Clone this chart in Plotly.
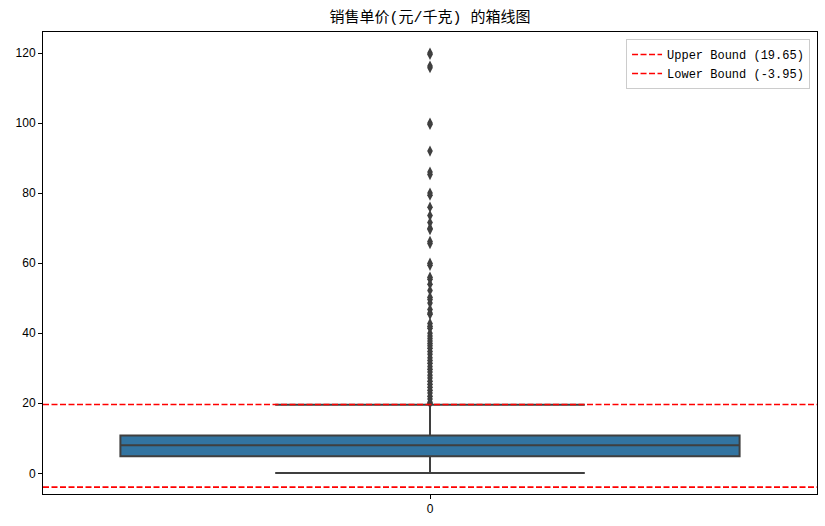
import plotly.graph_objects as go

# ---- data ----
category = [0]
q1 = [4.9]
median = [8.0]
q3 = [10.8]
lower_whisker = [0.1]
upper_whisker = [19.6]
upper_bound = 19.65
lower_bound = -3.95
outliers = [120.0, 119.6, 116.3, 115.8, 100.0, 99.6, 92.0, 86.0, 85.3, 80.0, 79.4, 76.0,
            73.6, 71.6, 70.0, 69.6, 66.2, 65.6, 60.0, 59.4, 56.0, 55.4, 54.0, 52.2,
            50.3, 49.6, 48.6, 46.8, 45.8, 45.4, 42.8, 42.0, 41.4, 40.0, 39.2, 38.5,
            37.8, 37.1, 36.4, 35.7, 34.8, 34.0, 33.0, 32.2, 31.4, 30.5, 29.7, 28.9,
            28.0, 27.2, 26.3, 25.4, 24.6, 23.7, 22.9, 22.0, 21.2, 20.3, 20.0]
title_text = "销售单价(元/千克) 的箱线图"
y_ticks = [0, 20, 40, 60, 80, 100, 120]

font_fam = "Liberation Mono, Noto Sans CJK SC, sans-serif"
tick_fam = "Liberation Sans, Arial, sans-serif"
edge = "#3f3f3f"
dash_style = "6px,2.5px"

fig = go.Figure()
fig.add_trace(go.Box(
    x=category, q1=q1, median=median, q3=q3,
    lowerfence=lower_whisker, upperfence=upper_whisker,
    width=0.8, whiskerwidth=0.5, boxpoints=False,
    fillcolor="#3274a1", line=dict(color=edge, width=2),
    showlegend=False, hoverinfo="skip",
))
fig.add_trace(go.Scatter(
    x=[category[0]] * len(outliers), y=outliers, mode="markers",
    marker=dict(symbol="diamond-tall", size=8, color=edge,
                line=dict(color=edge, width=0)),
    showlegend=False,
))
fig.add_trace(go.Scatter(
    x=[-0.5, 0.5], y=[upper_bound, upper_bound], mode="lines",
    line=dict(color="red", dash=dash_style, width=1.6),
    name=f"Upper Bound ({upper_bound})",
))
fig.add_trace(go.Scatter(
    x=[-0.5, 0.5], y=[lower_bound, lower_bound], mode="lines",
    line=dict(color="red", dash=dash_style, width=1.6),
    name=f"Lower Bound ({lower_bound})",
))

fig.update_layout(
    width=825, height=526,
    margin=dict(l=43, r=8, t=32, b=32),
    paper_bgcolor="white", plot_bgcolor="white",
    font=dict(family=font_fam, size=12, color="black"),
    title=dict(text=title_text, x=0.5, xanchor="center", xref="paper",
               y=1 - 17 / 526, yref="container", yanchor="middle",
               font=dict(size=15, family=font_fam, color="black")),
    legend=dict(x=0.991, xanchor="right", y=0.985, yanchor="top",
                bgcolor="rgba(255,255,255,0.8)", bordercolor="#cccccc",
                borderwidth=1, itemwidth=30,
                font=dict(size=12, family=font_fam, color="black")),
    xaxis=dict(range=[-0.5, 0.5], tickvals=category, ticktext=[str(c) for c in category],
               showgrid=False, zeroline=False, showline=True, linecolor="black",
               linewidth=1, mirror=True, ticks="outside", ticklen=4, tickcolor="black",
               tickfont=dict(family=tick_fam, size=12, color="black")),
    yaxis=dict(range=[-5.9, 126.0], tickvals=y_ticks,
               showgrid=False, zeroline=False, showline=True, linecolor="black",
               linewidth=1, mirror=True, ticks="outside", ticklen=4, tickcolor="black",
               tickfont=dict(family=tick_fam, size=12, color="black")),
)

fig.write_html("out.html")
